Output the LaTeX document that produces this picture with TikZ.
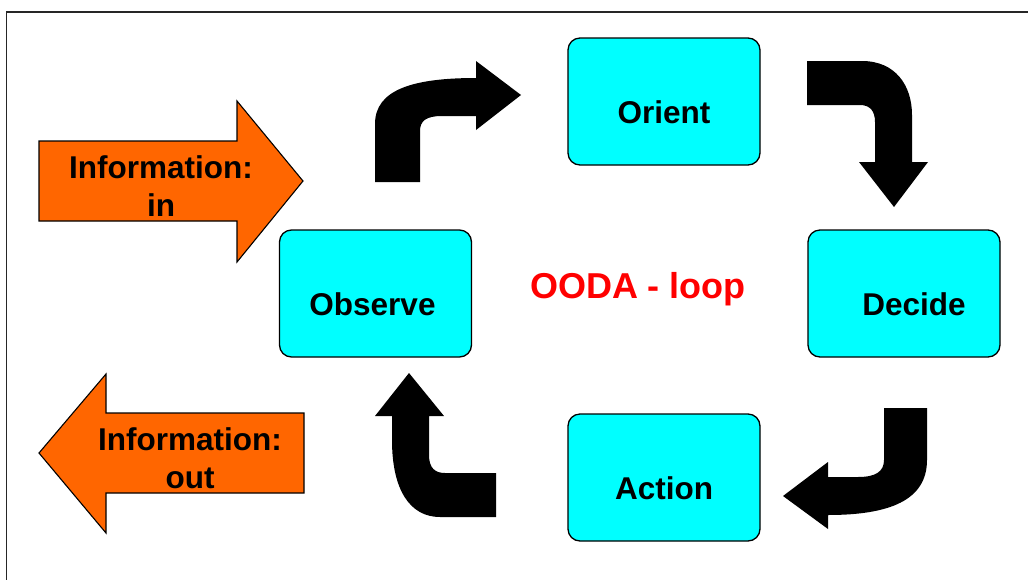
\documentclass[tikz,border=0pt]{standalone}
\usepackage{fontspec}
\setmainfont{Liberation Sans}
\definecolor{boxcyan}{HTML}{00FFFF}
\definecolor{infoorange}{HTML}{FF6600}
\definecolor{loopred}{HTML}{FF0000}
\begin{document}
\begin{tikzpicture}[x=1pt,y=-1pt,
  stage/.style={draw=black, line width=1.3pt, fill=boxcyan, rounded corners=12pt,
    minimum width=192pt, minimum height=127pt, inner sep=0pt,
    font=\fontsize{31.5}{36}\selectfont\bfseries, text height=44pt, text depth=0pt},
  loopshape/.style={fill=black},
  infoarrow/.style={draw=black, line width=1.1pt, fill=infoorange, line join=miter},
  infotext/.style={font=\fontsize{31.5}{38}\selectfont\bfseries, align=center, inner sep=0pt, anchor=base}
]
\useasboundingbox (0,0) rectangle (1028,579);

% frame
\draw[line width=1.8pt, black!85] (6.5,590) -- (6.5,12) -- (1040,12);

% the four stages
\node[stage] (orient)  at (664,101.5) {Orient};
\node[stage] (observe) at (375.5,293.5) {Observe\hspace*{6pt}};
\node[stage] (decide)  at (904,293.5) {\hspace*{20pt}Decide};
\node[stage] (action)  at (664,477.5) {Action};

% title
\node[font=\fontsize{36}{40}\selectfont\bfseries, text=loopred, anchor=base, inner sep=0pt]
  (title) at (638,298) {OODA - loop};

% curved block arrows between the stages
\fill[loopshape] (375,182) -- (375,124) .. controls (375,90) and (412,78) .. (476,78)
  -- (476,61) -- (521,95) -- (476,130) -- (476,116) -- (442,116)
  .. controls (426,116) and (420,121) .. (420,131) -- (420,182) -- cycle;
\fill[loopshape] (807,61) -- (862,61) .. controls (895,61) and (912,85) .. (912,115)
  -- (912,162) -- (928,162) -- (894,207) -- (859,162) -- (875,162) -- (875,122)
  .. controls (875,111) and (870,105) .. (860,105) -- (807,105) -- cycle;
\fill[loopshape] (884,408) -- (927,408) -- (927,460) .. controls (927,500) and (890,515) .. (828,515)
  -- (828,529) -- (783,496) -- (828,462) -- (828,477) -- (858,477)
  .. controls (875,477) and (884,472) .. (884,460) -- cycle;
\fill[loopshape] (496,473) -- (445,473) .. controls (435,473) and (429,468) .. (429,455)
  -- (429,416) -- (444,416) -- (409,373) -- (375,416) -- (392,416) -- (392,440)
  .. controls (392,490) and (410,517) .. (440,517) -- (496,517) -- cycle;

% information flowing in and out
\draw[infoarrow] (39,141) -- (237,141) -- (237,101) -- (303,181) -- (237,262)
  -- (237,221) -- (39,221) -- cycle;
\node[infotext] (infoin) at (161,216) {Information:\\in};
\draw[infoarrow] (39,453) -- (106,374) -- (106,413) -- (304,413) -- (304,493)
  -- (106,493) -- (106,533) -- cycle;
\node[infotext] (infoout) at (190,488) {Information:\\out};
\end{tikzpicture}
\end{document}
